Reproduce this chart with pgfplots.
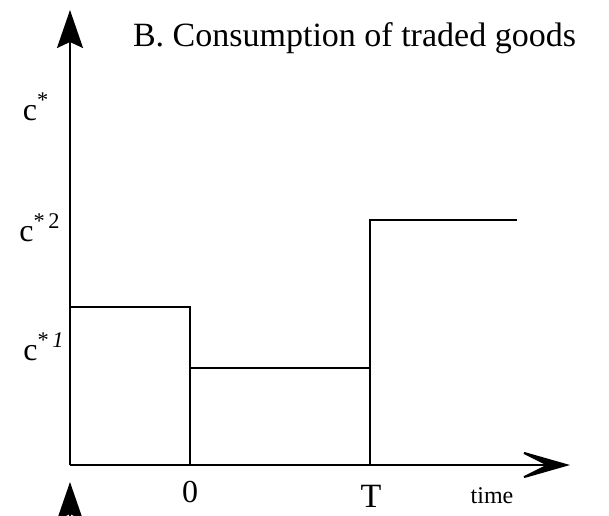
\documentclass[border=0pt]{standalone}
\usepackage{pgfplots}
\pgfplotsset{compat=1.18}
\usepackage{fontspec}
\setmainfont{Liberation Serif}
\usetikzlibrary{arrows.meta}
\begin{document}
\begin{tikzpicture}[x=0.5pt,y=0.5pt]
\begin{axis}[
  name=ax,
  scale only axis, width=304.5pt, height=257.5pt,
  xmin=0, xmax=609, ymin=0, ymax=515,
  axis lines=none, clip=false,
]
% axes
\addplot[black, no marks, line width=1pt, -{Stealth[length=19pt,width=13pt,inset=3pt]}] coordinates {(70,50) (70,505)};
\addplot[black, no marks, line width=1pt, -{Stealth[length=28pt,width=16pt,inset=16pt]}] coordinates {(70,50) (570,50)};
% partial arrow from panel below
\addplot[black, no marks, line width=1pt, -{Stealth[length=19pt,width=13pt,inset=3pt]}] coordinates {(70,-40) (70,33)};
% step function
\addplot[black, no marks, line width=1.1pt] coordinates {(70,208) (190,208) (190,50)};
\addplot[black, no marks, line width=1.1pt] coordinates {(190,147) (370,147)};
\addplot[black, no marks, line width=1.1pt] coordinates {(370,50) (370,295) (517,295)};
% labels
\node[anchor=west, font=\fontsize{17}{19}\selectfont] at (axis cs:126,477) {B. Consumption of traded goods};
\node[font=\fontsize{16}{18}\selectfont] at (axis cs:36,408) {c\textsuperscript{*}};
\node[font=\fontsize{16}{18}\selectfont] at (axis cs:40,287) {c\textsuperscript{*\,2}};
\node[font=\fontsize{16}{18}\selectfont] at (axis cs:44,168) {c\textsuperscript{*\,\textit{1}}};
\node[font=\fontsize{16}{18}\selectfont] at (axis cs:190,23) {0};
\node[font=\fontsize{17}{18}\selectfont] at (axis cs:371,19) {T};
\node[font=\fontsize{12}{14}\selectfont] at (axis cs:492,19) {time};
\end{axis}
\pgfresetboundingbox
\path (ax.south west) rectangle (ax.north east);
\end{tikzpicture}
\end{document}
